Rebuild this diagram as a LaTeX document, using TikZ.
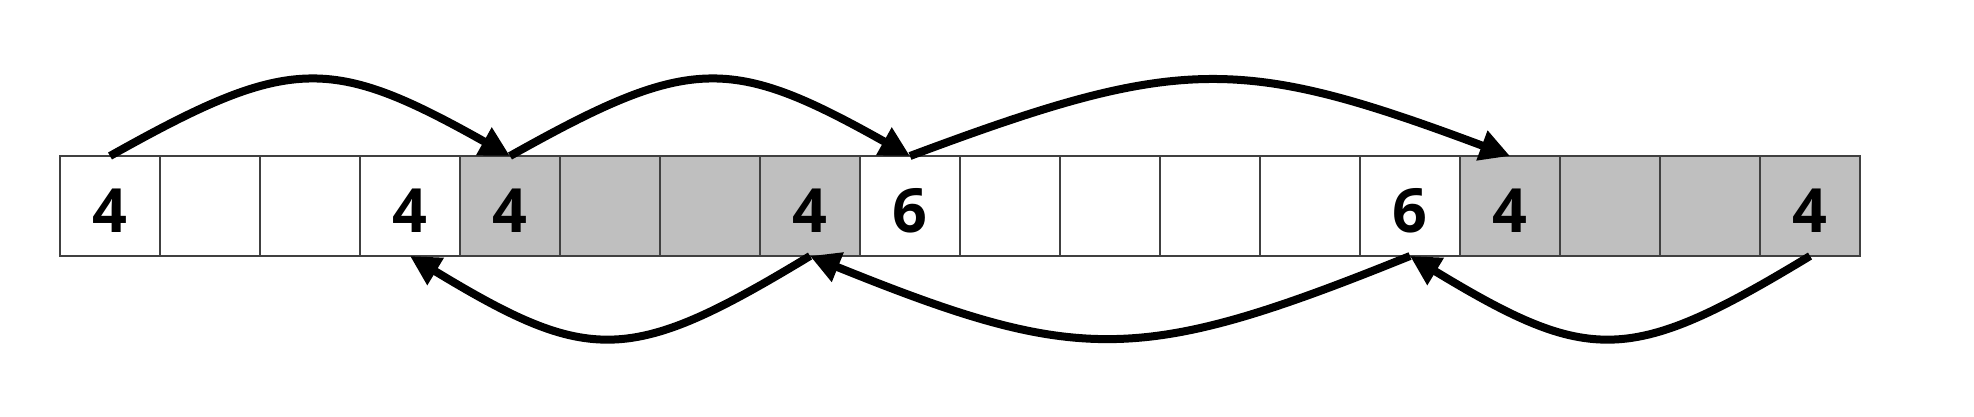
\documentclass[tikz,border=0pt]{standalone}
\usepackage{fontspec}
\newfontfamily\cellfont{Open Sans}
\usetikzlibrary{arrows.meta}
\begin{document}
\begin{tikzpicture}[x=1pt,y=-1pt,
  cell/.style={draw=black!75,line width=1.5pt,minimum width=100pt,minimum height=100pt,inner sep=0pt,outer sep=0pt},
  free/.style={cell,fill=white},
  used/.style={cell,fill=gray!50},
  digit/.style={font=\fontsize{61}{70}\cellfont\bfseries,inner sep=0pt},
  link/.style={line width=8pt,-{Triangle[length=30pt,width=30pt]}}]
\useasboundingbox (0,0) rectangle (1974,416);
\foreach \i/\s/\t in {0/free/4,1/free/,2/free/,3/free/4,4/used/4,5/used/,6/used/,7/used/4,8/free/6,9/free/,10/free/,11/free/,12/free/,13/free/6,14/used/4,15/used/,16/used/,17/used/4}{
  \node[\s] (c\i) at ({110+100*\i},206) {};
  \node[digit] (t\i) at ({110+100*\i},211) {\t};
}
\draw[link] (c0.north) .. controls +(180,-101) and +(-180,-101) .. (c4.north);
\draw[link] (c4.north) .. controls +(180,-101) and +(-180,-101) .. (c8.north);
\draw[link] (c8.north) .. controls +(270,-101) and +(-270,-101) .. (c14.north);
\draw[link] (c7.south) .. controls +(-180,109) and +(180,109) .. (c3.south);
\draw[link] (c13.south) .. controls +(-270,109) and +(270,109) .. (c7.south);
\draw[link] (c17.south) .. controls +(-180,109) and +(180,109) .. (c13.south);
\end{tikzpicture}
\end{document}
